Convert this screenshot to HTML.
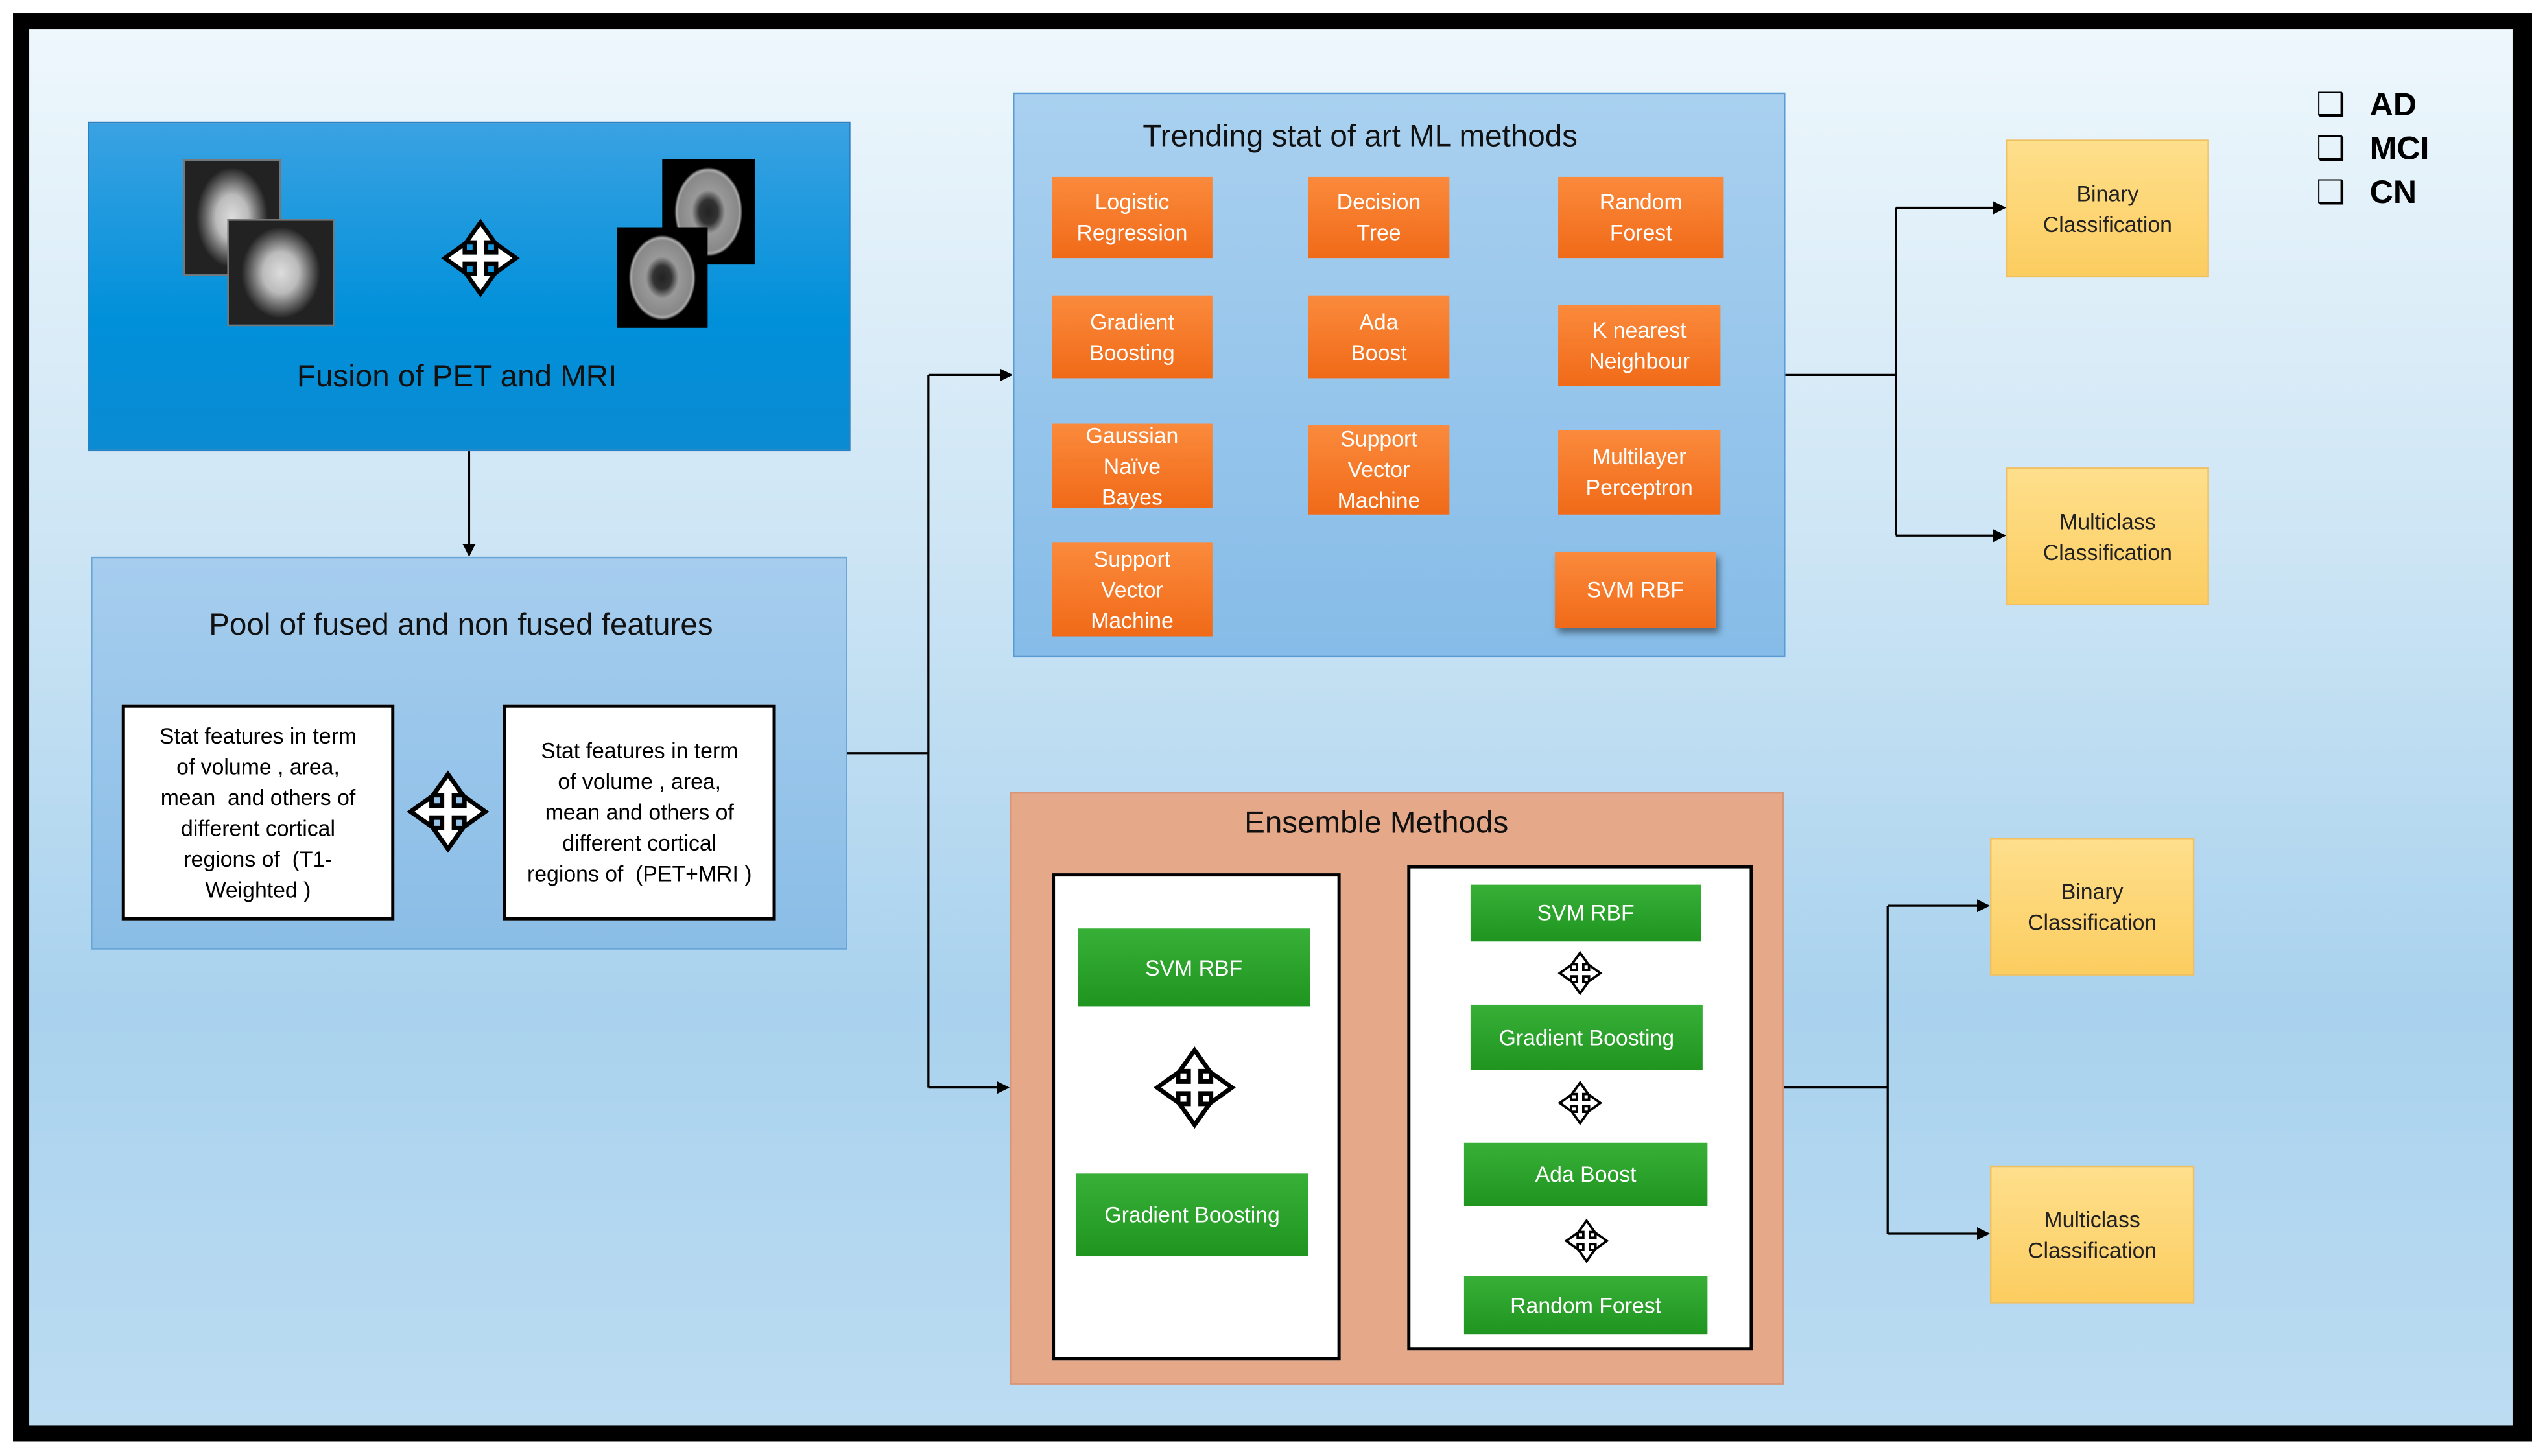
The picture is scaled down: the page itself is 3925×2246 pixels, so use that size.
<!DOCTYPE html>
<html><head><meta charset="utf-8"><style>
html,body{margin:0;padding:0;width:3925px;height:2246px;overflow:hidden;background:#fff}
#s{position:absolute;left:0;top:0;width:1568px;height:897px;transform:scale(2.5032,2.5039);transform-origin:0 0;font-family:"Liberation Sans",sans-serif}
.a{position:absolute;box-sizing:border-box}
.c{display:flex;align-items:center;justify-content:center;text-align:center}
.o{background:linear-gradient(#fb8a3c,#f06a18);color:#fff;font-size:13.5px;line-height:19px}
.g{background:linear-gradient(#38b038,#1f951f);color:#fff;font-size:13.5px}
.y{background:linear-gradient(#fedf8c,#fccd60);border:1px solid #f0c060;color:#222;font-size:13.5px;line-height:19px}
.w{background:#fff;border:2px solid #000;color:#000;font-size:13.5px;line-height:19px;white-space:nowrap}
.t{font-size:19px;color:#111;text-align:center}
.br{background:radial-gradient(ellipse 38% 44% at 50% 50%,#ddd 0,#bbb 45%,#666 75%,#222 100%);border:1px solid #777}
.mr{background:radial-gradient(ellipse 40% 46% at 50% 50%,#222 0,#333 25%,#999 45%,#888 80%,#aaa 86%,#000 92%)}
.lg{position:absolute;font-size:20px;font-weight:bold;color:#000;left:1460px}
.cb{position:absolute;left:1427px;font-family:'DejaVu Sans',sans-serif;font-size:20px;color:#000}
</style></head><body><div id="s">
<div class="a" style="left:0;top:0;width:1568px;height:897px;background:#fff"></div>
<div class="a" style="left:8px;top:8px;width:1552px;height:880px;background:#000"></div>
<div class="a" style="left:18px;top:18px;width:1530px;height:860px;background:linear-gradient(#eef7fc 0%,#cfe6f5 35%,#a9d2ee 70%,#bcdcf2 100%)"></div>

<div class="a" style="left:54px;top:75px;width:470px;height:203px;background:linear-gradient(#3aa2e2,#0090da 60%,#0a8bd2);border:1px solid #2c7fc0"></div>
<div class="a br" style="left:113px;top:98px;width:60px;height:72px"></div>
<div class="a br" style="left:140px;top:135px;width:66px;height:66px"></div>
<div class="a mr" style="left:408px;top:98px;width:57px;height:65px"></div>
<div class="a mr" style="left:380px;top:140px;width:56px;height:62px"></div>
<div class="a t" style="left:54px;top:222px;width:455px">Fusion of PET and MRI</div>

<div class="a" style="left:56px;top:343px;width:466px;height:242px;background:linear-gradient(#a6cdee,#8abde6);border:1px solid #6aa6d8"></div>
<div class="a t" style="left:56px;top:375px;width:456px">Pool of fused and non fused features</div>
<div class="a w c" style="left:75px;top:434px;width:168px;height:133px">Stat features in term<br>of volume , area,<br>mean &nbsp;and others of<br>different cortical<br>regions of &nbsp;(T1-<br>Weighted )</div>
<div class="a w c" style="left:310px;top:434px;width:168px;height:133px">Stat features in term<br>of volume , area,<br>mean and others of<br>different cortical<br>regions of &nbsp;(PET+MRI )</div>

<div class="a" style="left:624px;top:57px;width:476px;height:348px;background:linear-gradient(#a9d0ef,#86bce8);border:1px solid #5b9bd5"></div>
<div class="a t" style="left:624px;top:74px;width:428px">Trending stat of art ML methods</div>
<div class="a o c" style="left:648px;top:109px;width:99px;height:50px">Logistic<br>Regression</div>
<div class="a o c" style="left:648px;top:182px;width:99px;height:51px">Gradient<br>Boosting</div>
<div class="a o c" style="left:648px;top:261px;width:99px;height:52px">Gaussian<br>Naïve<br>Bayes</div>
<div class="a o c" style="left:648px;top:334px;width:99px;height:58px">Support<br>Vector<br>Machine</div>
<div class="a o c" style="left:806px;top:109px;width:87px;height:50px">Decision<br>Tree</div>
<div class="a o c" style="left:806px;top:182px;width:87px;height:51px">Ada<br>Boost</div>
<div class="a o c" style="left:806px;top:262px;width:87px;height:55px">Support<br>Vector<br>Machine</div>
<div class="a o c" style="left:960px;top:109px;width:102px;height:50px">Random<br>Forest</div>
<div class="a o c" style="left:960px;top:188px;width:100px;height:50px">K nearest<br>Neighbour</div>
<div class="a o c" style="left:960px;top:265px;width:100px;height:52px">Multilayer<br>Perceptron</div>
<div class="a o c" style="left:958px;top:340px;width:99px;height:47px;box-shadow:2px 3px 4px rgba(0,0,0,.45)">SVM RBF</div>

<div class="a" style="left:622px;top:488px;width:477px;height:365px;background:#e5a98a;border:1px solid #d8957a"></div>
<div class="a t" style="left:622px;top:497px;width:452px">Ensemble Methods</div>
<div class="a" style="left:648px;top:538px;width:178px;height:300px;background:#fff;border:2px solid #000"></div>
<div class="a g c" style="left:664px;top:572px;width:143px;height:48px">SVM RBF</div>
<div class="a g c" style="left:663px;top:723px;width:143px;height:51px">Gradient Boosting</div>
<div class="a" style="left:867px;top:533px;width:213px;height:299px;background:#fff;border:2px solid #000"></div>
<div class="a g c" style="left:906px;top:545px;width:142px;height:35px">SVM RBF</div>
<div class="a g c" style="left:906px;top:619px;width:143px;height:40px">Gradient Boosting</div>
<div class="a g c" style="left:902px;top:704px;width:150px;height:39px">Ada Boost</div>
<div class="a g c" style="left:902px;top:786px;width:150px;height:36px">Random Forest</div>

<div class="a y c" style="left:1236px;top:86px;width:125px;height:85px">Binary<br>Classification</div>
<div class="a y c" style="left:1236px;top:288px;width:125px;height:85px">Multiclass<br>Classification</div>
<div class="a y c" style="left:1226px;top:516px;width:126px;height:85px">Binary<br>Classification</div>
<div class="a y c" style="left:1226px;top:718px;width:126px;height:85px">Multiclass<br>Classification</div>

<div class="cb" style="top:52px">❑</div><div class="lg" style="top:54px">AD</div>
<div class="cb" style="top:79px">❑</div><div class="lg" style="top:81px">MCI</div>
<div class="cb" style="top:106px">❑</div><div class="lg" style="top:108px">CN</div>

<svg class="a" style="left:0;top:0" width="1568" height="897" viewBox="0 0 1568 897">
<defs><polygon id="mv" points="50,0 70,28 58,28 58,42 72,42 72,30 100,50 72,70 72,58 58,58 58,72 70,72 50,100 30,72 42,72 42,58 28,58 28,70 0,50 28,30 28,42 42,42 42,28 30,28" fill="#fff" stroke="#000" stroke-width="6" stroke-linejoin="miter"/>
<marker id="ar" markerWidth="8" markerHeight="8" refX="7" refY="4" orient="auto" markerUnits="userSpaceOnUse"><path d="M0,0 L8,4 L0,8z" fill="#000"/></marker></defs>
<use href="#mv" transform="translate(274,137) scale(0.44)"/>
<use href="#mv" transform="translate(253,477) scale(0.46)"/>
<use href="#mv" transform="translate(713,647) scale(0.46)"/>
<use href="#mv" transform="translate(961,587) scale(0.25)"/>
<use href="#mv" transform="translate(961,667) scale(0.25)"/>
<use href="#mv" transform="translate(965,752) scale(0.25)"/>
<g stroke="#000" stroke-width="1.3" fill="none">
<line x1="289" y1="278" x2="289" y2="342" marker-end="url(#ar)"/>
<polyline points="522,464 572,464"/>
<line x1="572" y1="231" x2="572" y2="670"/>
<line x1="572" y1="231" x2="623" y2="231" marker-end="url(#ar)"/>
<line x1="572" y1="670" x2="621" y2="670" marker-end="url(#ar)"/>
<line x1="1100" y1="231" x2="1168" y2="231"/>
<line x1="1168" y1="128" x2="1168" y2="330"/>
<line x1="1168" y1="128" x2="1235" y2="128" marker-end="url(#ar)"/>
<line x1="1168" y1="330" x2="1235" y2="330" marker-end="url(#ar)"/>
<line x1="1099" y1="670" x2="1163" y2="670"/>
<line x1="1163" y1="558" x2="1163" y2="760"/>
<line x1="1163" y1="558" x2="1225" y2="558" marker-end="url(#ar)"/>
<line x1="1163" y1="760" x2="1225" y2="760" marker-end="url(#ar)"/>
</g></svg>
</div></body></html>
